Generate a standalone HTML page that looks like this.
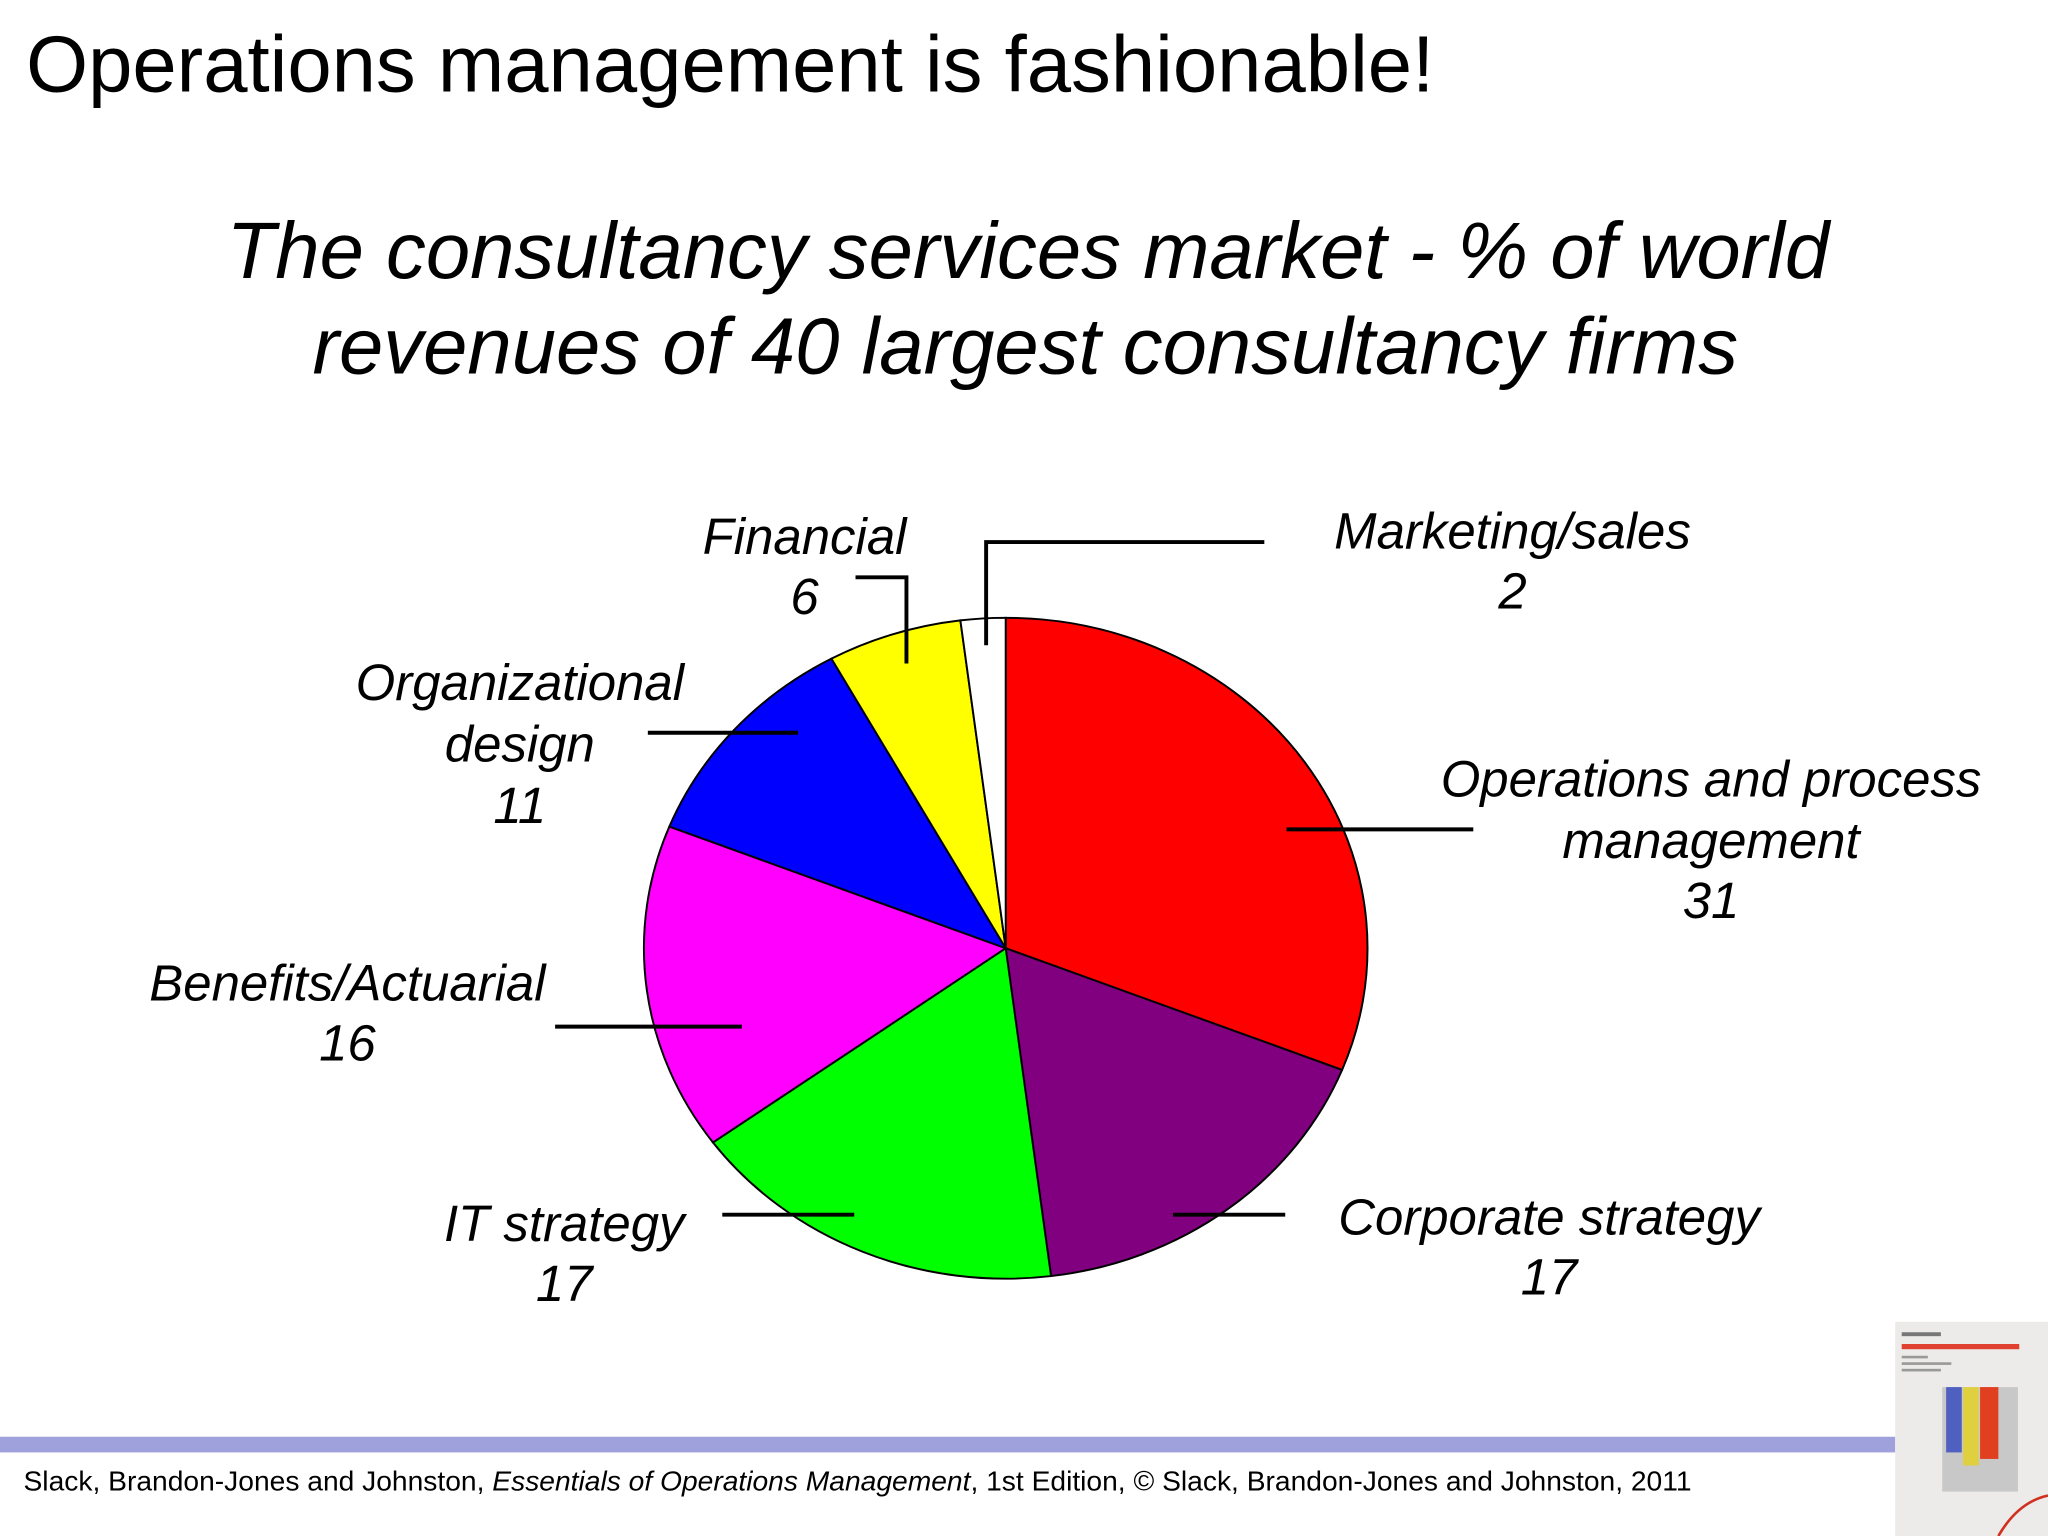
<!DOCTYPE html>
<html><head><meta charset="utf-8"><style>
html,body{margin:0;padding:0;background:#fff;}
svg{display:block;}
text{font-family:"Liberation Sans",Arial,sans-serif;}
</style></head><body>
<svg width="2048" height="1536" viewBox="0 0 1568 1176" xmlns="http://www.w3.org/2000/svg">
<text x="20" y="70" font-size="61" fill="#000">Operations management is fashionable!</text>
<g font-style="italic" font-size="61" text-anchor="middle" fill="#000">
<text x="787" y="213">The consultancy services market - % of world</text>
<text x="785" y="286">revenues of 40 largest consultancy firms</text>
</g>
<g id="pie"></g>
<g stroke="#000" stroke-width="3" fill="none">
<polyline points="655,442 694,442 694,508"/>
<polyline points="968,415 755,415 755,494"/>
<line x1="496" y1="561" x2="611" y2="561"/>
<line x1="985" y1="635" x2="1128" y2="635"/>
<line x1="425" y1="786" x2="568" y2="786"/>
<line x1="553" y1="930" x2="654" y2="930"/>
<line x1="898" y1="930" x2="984" y2="930"/>
</g>
<g font-style="italic" font-size="39" text-anchor="middle" fill="#000">
<text x="616" y="424">Financial<tspan x="616" y="470">6</tspan></text>
<text x="1158" y="420">Marketing/sales<tspan x="1158" y="466">2</tspan></text>
<text x="398" y="536">Organizational<tspan x="398" y="583">design</tspan><tspan x="398" y="630">11</tspan></text>
<text x="1310" y="610">Operations and process<tspan x="1310" y="657">management</tspan><tspan x="1310" y="703">31</tspan></text>
<text x="266" y="766">Benefits/Actuarial<tspan x="266" y="812">16</tspan></text>
<text x="432" y="950">IT strategy<tspan x="432" y="996">17</tspan></text>
<text x="1186" y="945">Corporate strategy<tspan x="1186" y="991">17</tspan></text>
</g>
<rect x="0" y="1100" width="1451" height="12" fill="#9ea1dc"/>
<text x="18" y="1141" font-size="21.6" fill="#000">Slack, Brandon-Jones and Johnston, <tspan font-style="italic">Essentials of Operations Management</tspan>, 1st Edition, © Slack, Brandon-Jones and Johnston, 2011</text>
<g>
<rect x="1451" y="1012" width="117" height="164" fill="#ecebea"/>
<rect x="1456" y="1020" width="30" height="3" fill="#777"/>
<rect x="1456" y="1029" width="90" height="4" fill="#e04030"/>
<rect x="1456" y="1038" width="20" height="2" fill="#999"/>
<rect x="1456" y="1043" width="38" height="2" fill="#999"/>
<rect x="1456" y="1048" width="30" height="2" fill="#999"/>
<rect x="1487" y="1062" width="58" height="80" fill="#c8c8c8"/>
<rect x="1490" y="1062" width="12" height="50" fill="#5060c0"/>
<rect x="1503" y="1062" width="12" height="60" fill="#e0d040"/>
<rect x="1516" y="1062" width="14" height="55" fill="#e04020"/>
<path d="M1530 1176 Q1545 1150 1568 1145" stroke="#d03020" stroke-width="2" fill="none"/>
</g>
</svg>
<script>
const categories = ["Operations and process management","Corporate strategy","IT strategy","Benefits/Actuarial","Organizational design","Financial","Marketing/sales"];
const values = [31,17,17,16,11,6,2];
const colors = ["#ff0000","#800080","#00ff00","#ff00ff","#0000ff","#ffff00","#ffffff"];
const cx=770, cy=726, rx=277, ry=253;
const g=document.getElementById('pie');
const total=values.reduce((a,b)=>a+b,0);
function pt(frac){const a=frac*2*Math.PI;return [cx+rx*Math.sin(a), cy-ry*Math.cos(a)];}
let acc=0;
values.forEach((v,i)=>{
  const s=pt(acc/total), e=pt((acc+v)/total);
  const large=(v/total)>0.5?1:0;
  const p=document.createElementNS('http://www.w3.org/2000/svg','path');
  p.setAttribute('d',`M${cx},${cy} L${s[0]},${s[1]} A${rx},${ry} 0 ${large} 1 ${e[0]},${e[1]} Z`);
  p.setAttribute('fill',colors[i]);
  p.setAttribute('stroke','#000');
  p.setAttribute('stroke-width','1.5');
  
  
  g.appendChild(p);
  acc+=v;
});
</script>
</body></html>
